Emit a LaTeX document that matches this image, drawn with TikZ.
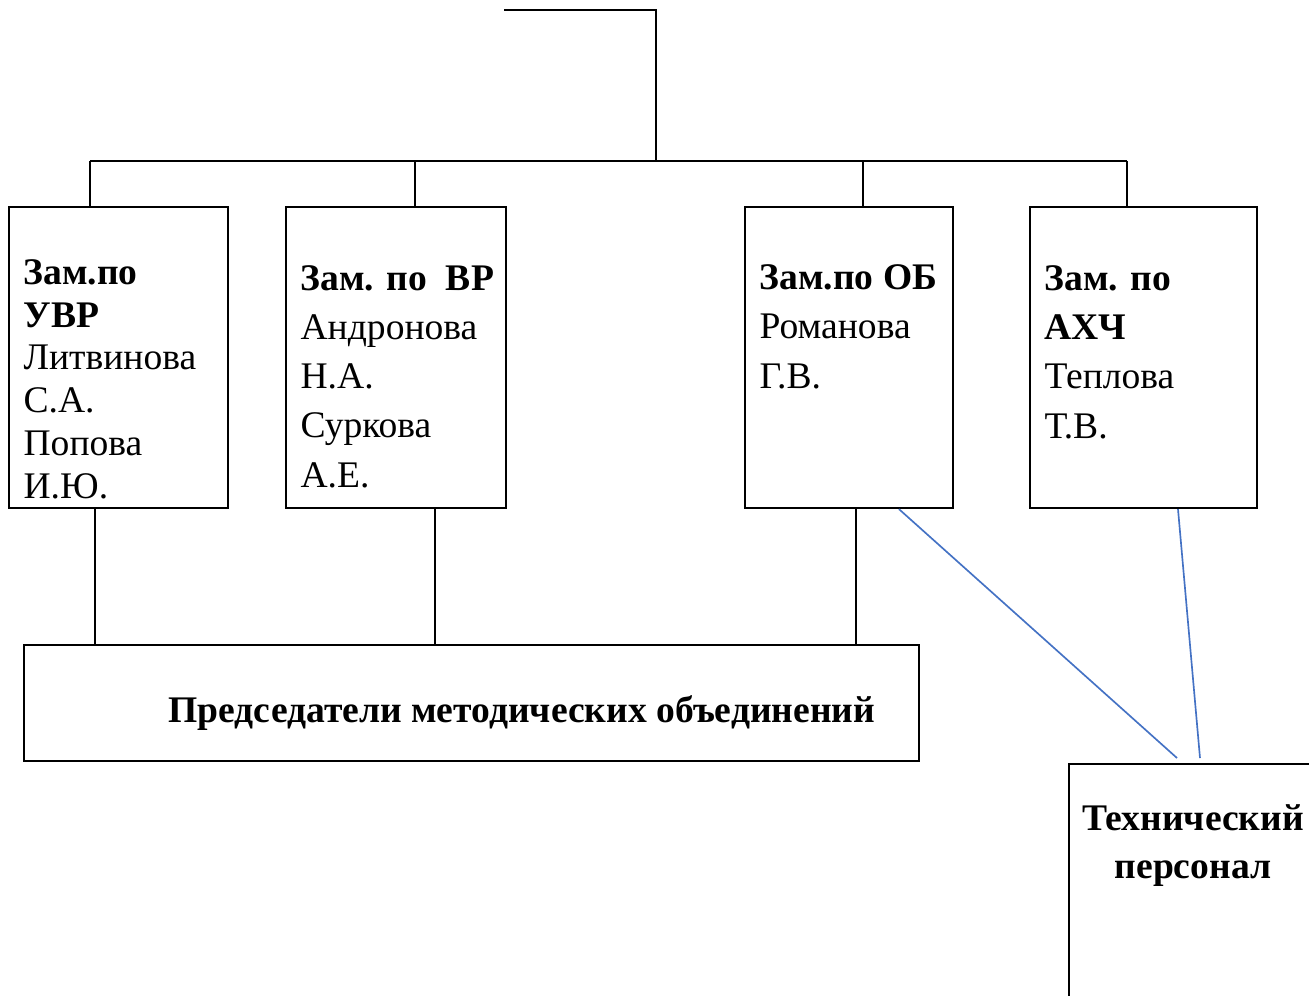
\documentclass[tikz,border=0pt]{standalone}
\usepackage{fontspec}
\setmainfont{Liberation Serif}
\usepackage{xcolor}
\usetikzlibrary{positioning}

\definecolor{tieblue}{RGB}{68,114,196}
\def\px{0.33pt}

\begin{document}
\begin{tikzpicture}[x=0.33pt, y=-0.33pt, font=\fontsize{12.4}{16.2}\selectfont,
    box/.style={draw, line width=0.7pt, inner sep=0pt, anchor=north west},
    link/.style={line width=0.7pt},
    tie/.style={line width=0.55pt, draw=tieblue},
    txt/.style={anchor=base west, align=left, inner sep=0pt}]

% Page frame
\clip (0,0) rectangle (1309,995);

% Boxes: name/left/top/width/height
\foreach \name/\x/\y/\w/\h in {uvr/8/206/219/301, vr/285/206/220/301,
        ob/744/206/208/301, ahch/1029/206/227/301, mo/23/644/895/116,
        tech/1068/763/300/300} {
    \node[box, minimum width=\w*\px, minimum height=\h*\px] (\name) at (\x,\y) {};
}

% Texts (placed by the baseline of their last line)
\node[txt, font=\fontsize{12.4}{14.1}\selectfont] (uvrtxt) at (23,498)
    {\textbf{Зам.по}\\\textbf{УВР}\\Литвинова\\С.А.\\Попова\\И.Ю.};
\node[txt] (vrtxt) at (300,487) {\textbf{Зам. по\ \ ВР}\\Андронова\\Н.А.\\Суркова\\А.Е.};
\node[txt] (obtxt) at (759,388) {\textbf{Зам.по ОБ}\\Романова\\Г.В.};
\node[txt] (ahchtxt) at (1044,438) {\textbf{Зам. по}\\\textbf{АХЧ}\\Теплова\\Т.В.};
\node[txt, font=\fontsize{12.4}{16.2}\selectfont\bfseries] (motxt) at (168,722)
    {Председатели методических объединений};
\node[anchor=base, align=center, inner sep=0pt, font=\fontsize{12.4}{15.8}\selectfont\bfseries]
    (techtxt) at (1193,878) {Технический\\персонал};

% Head line and bus
\coordinate (head) at (504,10);
\coordinate (bus) at (656,161);
\draw[link] (head) -| (bus);
\draw[link] (90,161) -- (1127,161);
\foreach \name/\x in {uvr/90, vr/415, ob/863, ahch/1127} {
    \draw[link] (\x,161) -- (\name.north -| \x,0);
}

% Links down to the methodical unions
\foreach \name/\x in {uvr/95, vr/435, ob/856} {
    \draw[link] (\name.south -| \x,0) -- (mo.north -| \x,0);
}

% Blue ties to the technical staff
\coordinate (t1) at (1177,758);
\coordinate (t2) at (1200,758);
\draw[tie] (ob.south -| 899,0) -- (t1);
\draw[tie] (ahch.south -| 1178,0) -- (t2);
\end{tikzpicture}
\end{document}
